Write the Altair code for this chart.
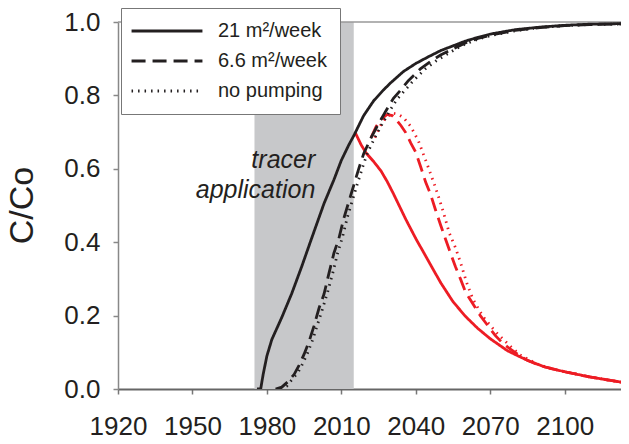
import altair as alt
import pandas as pd

# ---- data ----
scen_names = ["21 m²/week", "6.6 m²/week", "no pumping"]

# continuous application (black)
b21_year = [1976, 1977.5, 1978.5, 1980, 1982, 1986, 1990, 1994, 1998, 2003, 2007, 2010, 2013, 2015, 2019, 2023, 2027, 2030, 2035, 2040, 2045, 2050, 2055, 2060, 2065, 2070, 2080, 2090, 2100, 2110, 2126]
b21_val = [0, 0.0, 0.04, 0.09, 0.135, 0.195, 0.26, 0.333, 0.41, 0.505, 0.57, 0.623, 0.665, 0.69, 0.745, 0.785, 0.815, 0.835, 0.865, 0.887, 0.905, 0.922, 0.935, 0.948, 0.958, 0.967, 0.979, 0.986, 0.991, 0.994, 0.996]

b66_year = [1983.5, 1986, 1988.5, 1991, 1993, 1995, 1997, 1999, 2001, 2003, 2005, 2007, 2009, 2011, 2013, 2015, 2017, 2019, 2022, 2025, 2028, 2031, 2034, 2037, 2042, 2046, 2050, 2055, 2060, 2065, 2070, 2080, 2090, 2100, 2110, 2126]
b66_val = [0, 0.005, 0.02, 0.04, 0.065, 0.095, 0.13, 0.172, 0.22, 0.258, 0.315, 0.37, 0.41, 0.465, 0.51, 0.555, 0.6, 0.641, 0.685, 0.723, 0.758, 0.792, 0.815, 0.84, 0.873, 0.893, 0.91, 0.927, 0.943, 0.955, 0.964, 0.977, 0.985, 0.99, 0.993, 0.995]

bnp_year = [1985.5, 1988, 1990, 1992.5, 1994.5, 1996.5, 1998.5, 2000.5, 2002.5, 2004.5, 2006.5, 2008.5, 2010.5, 2012.5, 2014.5, 2016.5, 2018.5, 2020.5, 2023.5, 2026.5, 2029.5, 2032.5, 2035.5, 2039, 2044, 2048, 2052, 2056, 2060, 2065, 2070, 2080, 2090, 2100, 2110, 2126]
bnp_val = [0, 0.008, 0.025, 0.045, 0.07, 0.1, 0.135, 0.178, 0.22, 0.265, 0.315, 0.37, 0.415, 0.47, 0.515, 0.56, 0.603, 0.643, 0.685, 0.723, 0.758, 0.79, 0.813, 0.84, 0.873, 0.893, 0.91, 0.926, 0.94, 0.953, 0.963, 0.976, 0.985, 0.99, 0.993, 0.995]

# application stopped (red)
r21_year = [2015.5, 2018, 2020, 2023, 2026, 2028.5, 2031, 2036, 2040, 2045, 2050, 2055, 2060, 2065, 2070, 2077, 2085, 2092, 2100, 2110, 2126]
r21_val = [0.70, 0.665, 0.643, 0.62, 0.594, 0.565, 0.532, 0.462, 0.41, 0.35, 0.29, 0.238, 0.198, 0.165, 0.137, 0.104, 0.078, 0.06, 0.047, 0.033, 0.015]

r66_year = [2022, 2024, 2026, 2028.5, 2030.5, 2032, 2034, 2036, 2038, 2040, 2042, 2044, 2046, 2048, 2050, 2052, 2054, 2056, 2058, 2060, 2063, 2066, 2069, 2072, 2075, 2078, 2081, 2085, 2090, 2095, 2100, 2110, 2126]
r66_val = [0.685, 0.715, 0.735, 0.748, 0.745, 0.735, 0.718, 0.698, 0.67, 0.645, 0.605, 0.563, 0.53, 0.487, 0.447, 0.408, 0.37, 0.333, 0.3, 0.265, 0.232, 0.2, 0.173, 0.146, 0.125, 0.109, 0.095, 0.078, 0.064, 0.055, 0.047, 0.033, 0.015]

rnp_year = [2023.5, 2025.5, 2028, 2030.5, 2033, 2035, 2038, 2041, 2044.5, 2048, 2051, 2053.5, 2056, 2058, 2060.5, 2063, 2067, 2072, 2078, 2082, 2086, 2090, 2095, 2100, 2110, 2126]
rnp_val = [0.685, 0.715, 0.74, 0.752, 0.748, 0.74, 0.715, 0.677, 0.614, 0.548, 0.485, 0.425, 0.385, 0.345, 0.29, 0.245, 0.198, 0.157, 0.117, 0.093, 0.078, 0.065, 0.055, 0.047, 0.033, 0.015]

tracer_start = [1975]
tracer_end = [2015]

x_ticks = [1920, 1950, 1980, 2010, 2040, 2070, 2100]
y_ticks = [0.0, 0.2, 0.4, 0.6, 0.8, 1.0]
top_value = [1.0]

# ---- build table ----
rows = []
def add(years, vals, scen, run):
    for yv, vv in zip(years, vals):
        rows.append({"year": yv, "value": vv, "scenario": scen, "run": run})

add(b21_year, b21_val, scen_names[0], "continuous")
add(b66_year, b66_val, scen_names[1], "continuous")
add(bnp_year, bnp_val, scen_names[2], "continuous")
add(r21_year, r21_val, scen_names[0], "stopped")
add(r66_year, r66_val, scen_names[1], "stopped")
add(rnp_year, rnp_val, scen_names[2], "stopped")
df = pd.DataFrame(rows)

FONT = "Liberation Sans"
INK = "#231f20"
RED = "#ed1c24"

xscale = alt.Scale(domain=[1920, 2122.7], nice=False, zero=False)
yscale = alt.Scale(domain=[0, 1], nice=False)

shade = alt.Chart(pd.DataFrame({"start": tracer_start, "end": tracer_end, "lo": [0.0], "hi": [1.0]})).mark_rect(
    color="#c7c8ca"
).encode(
    x=alt.X("start:Q", scale=xscale,
            axis=alt.Axis(values=x_ticks, format="d", title=None, grid=False,
                          labelFontSize=26, labelFont=FONT, labelColor=INK, labelPadding=19,
                          tickSize=5, tickColor="#777", tickWidth=1.5,
                          domainColor="#666", domainWidth=2, labelFlush=False)),
    x2="end:Q",
    y=alt.Y("lo:Q", scale=yscale,
            axis=alt.Axis(values=y_ticks, format=".1f", title="C/Co", grid=False,
                          labelFontSize=26, labelFont=FONT, labelColor=INK, labelPadding=13,
                          tickSize=5, tickColor="#888", tickWidth=1.5,
                          domainColor="#888", domainWidth=1.5,
                          titleFontSize=34, titleFont=FONT, titleColor=INK, titleFontWeight="normal",
                          titleX=-96, titleY=183, titleAngle=270, titleAlign="center", titleBaseline="middle")),
    y2="hi:Q",
)

top_line = alt.Chart(pd.DataFrame({"v": top_value})).mark_rule(color="#999", strokeWidth=1.5).encode(
    y=alt.Y("v:Q", scale=yscale)
)

dash_scale = alt.Scale(domain=scen_names, range=[[1, 0], [14, 7], [1.5, 5]])
width_scale = alt.Scale(domain=scen_names, range=[2.8, 2.8, 1.5])
op_scale = alt.Scale(domain=scen_names, range=[1.0, 1.0, 0.6])
color_scale = alt.Scale(domain=["continuous", "stopped"], range=[INK, RED])

legend = alt.Legend(title=None, orient="none", legendX=3, legendY=-14,
                    symbolType="M-5,0H5", symbolSize=201, symbolStrokeColor=INK,
                    symbolOffset=23,
                    labelFontSize=20, labelFont=FONT, labelColor=INK, labelOffset=41, labelLimit=400,
                    padding=13, rowPadding=10, fillColor="white", strokeColor="#777")

def lines(run):
    return alt.Chart(df).transform_filter(alt.datum.run == run).mark_line(clip=True).encode(
        x=alt.X("year:Q", scale=xscale),
        y=alt.Y("value:Q", scale=yscale),
        detail="scenario:N",
        color=alt.Color("run:N", scale=color_scale, legend=None),
        strokeDash=alt.StrokeDash("scenario:N", scale=dash_scale, legend=legend, sort=scen_names),
        strokeWidth=alt.StrokeWidth("scenario:N", scale=width_scale, legend=legend, sort=scen_names),
        strokeOpacity=alt.StrokeOpacity("scenario:N", scale=op_scale, legend=legend, sort=scen_names),
    )

label = alt.Chart(pd.DataFrame({"year": [1999.5], "value": [0.601], "txt": [["tracer", "application"]]})).mark_text(
    align="right", baseline="alphabetic", fontSize=25, fontStyle="italic", font=FONT, color=INK, lineHeight=30
).encode(x=alt.X("year:Q", scale=xscale), y=alt.Y("value:Q", scale=yscale), text="txt")

chart = alt.layer(shade, top_line, lines("stopped"), lines("continuous"), label).properties(
    width=503, height=367,
    autosize=alt.AutoSizeParams(type="none"),
    padding={"left": 110, "top": 14, "right": 0, "bottom": 47},
).configure_view(stroke=None)

chart.save("out.html", embed_options={"renderer": "svg", "actions": False})
